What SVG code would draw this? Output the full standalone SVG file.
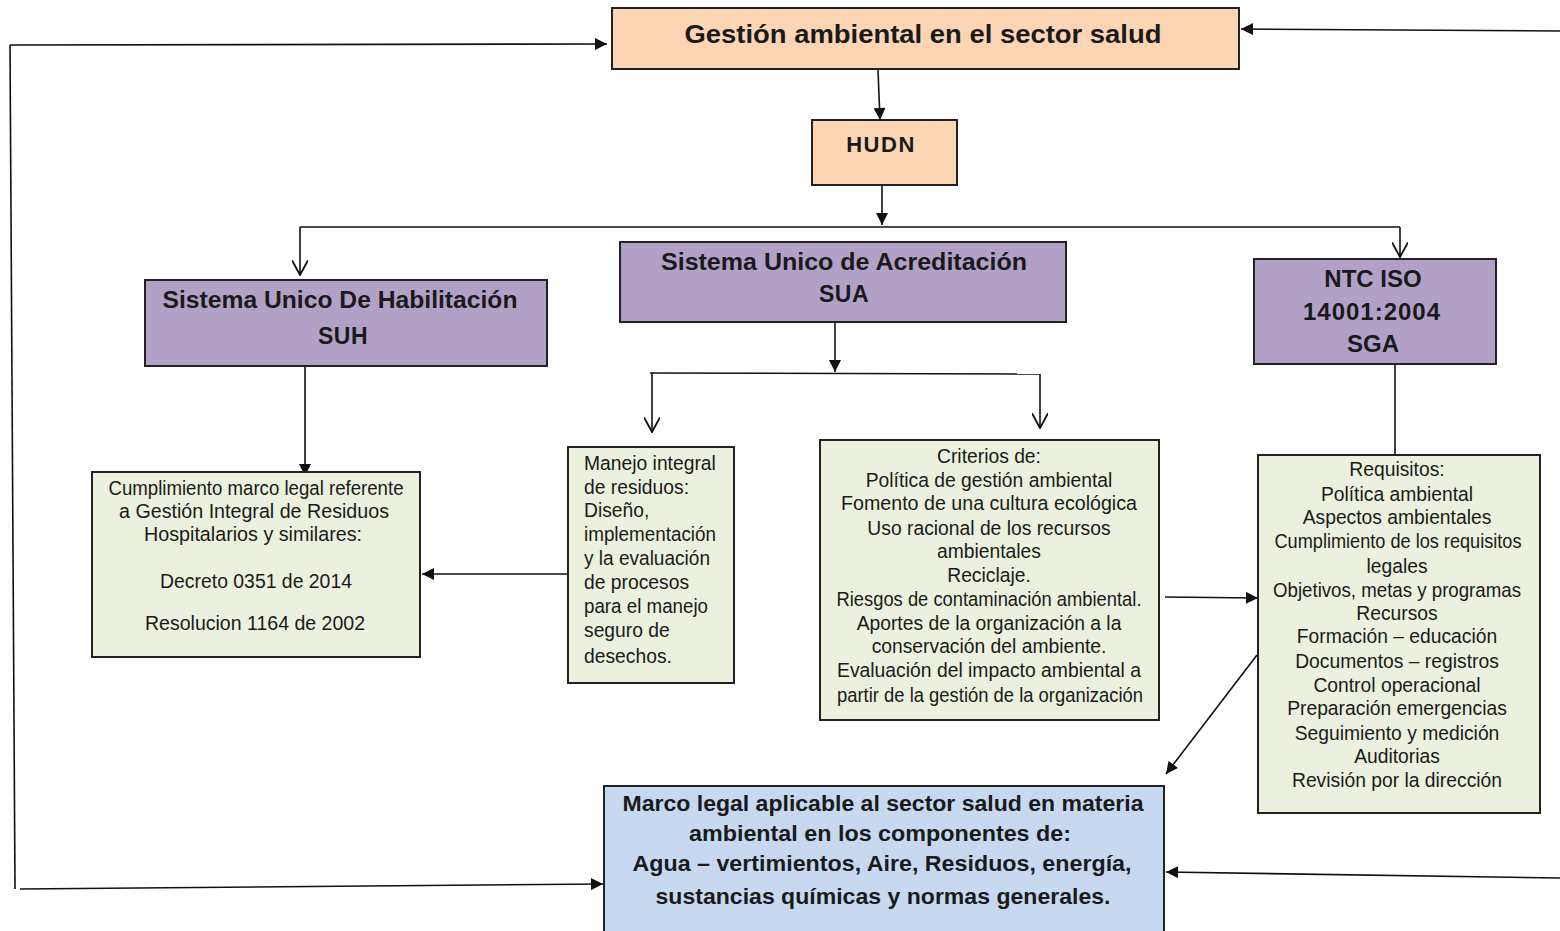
<svg xmlns="http://www.w3.org/2000/svg" width="1560" height="931" viewBox="0 0 1560 931">
<style>
.box{stroke:#222;stroke-width:2}
.peach{fill:#FCD5B5}
.purple{fill:#B2A1C7}
.green{fill:#EBF1DE}
.blue{fill:#C6D9F1}
.h{font-family:"Liberation Sans",Arial,sans-serif;font-weight:bold;fill:#1a1a1a;text-anchor:middle}
.t{font-family:"Liberation Sans",Arial,sans-serif;font-size:19.3px;fill:#1a1a1a;text-anchor:middle}
.tl{font-family:"Liberation Sans",Arial,sans-serif;font-size:19.3px;fill:#1a1a1a}
.c{fill:none;stroke:#111;stroke-width:1.6}
</style>
<defs>
<marker id="fb" viewBox="0 0 10 10" refX="10" refY="5" markerWidth="14" markerHeight="12" markerUnits="userSpaceOnUse" orient="auto">
<path d="M0,0 L10,5 L0,10 z" fill="#111"/>
</marker>
<marker id="oa" viewBox="0 0 12 12" refX="11" refY="6" markerWidth="16" markerHeight="16" markerUnits="userSpaceOnUse" orient="auto">
<path d="M0,0 L11,6 L0,12" fill="none" stroke="#111" stroke-width="1.4"/>
</marker>
</defs>

<g id="connectors">
<path class="c" d="M878,70 L880,120" marker-end="url(#fb)"/>
<path class="c" d="M882,185 L882,225" marker-end="url(#fb)"/>
<path class="c" d="M300,227 L1400,227"/>
<path class="c" d="M300,227 L300,275" marker-end="url(#oa)"/>
<path class="c" d="M1400,227 L1400,257" marker-end="url(#oa)"/>
<path class="c" d="M835,322 L835,372" marker-end="url(#fb)"/>
<path class="c" d="M650,373 L1040,374"/>
<path class="c" d="M652,373 L652,432" marker-end="url(#oa)"/>
<path class="c" d="M1040,374 L1040,428" marker-end="url(#oa)"/>
<path class="c" d="M305,366 L305,476" marker-end="url(#fb)"/>
<path class="c" d="M567,574 L422,574" marker-end="url(#fb)"/>
<path class="c" d="M1165,597 L1258,598" marker-end="url(#fb)"/>
<path class="c" d="M1395,364 L1395,455"/>
<path class="c" d="M1257,655 L1166,774" marker-end="url(#fb)"/>
<path class="c" d="M10,45 L15,889"/>
<path class="c" d="M20,889 L603,884" marker-end="url(#fb)"/>
<path class="c" d="M10,45 L607,44" marker-end="url(#fb)"/>
<path class="c" d="M1560,31 L1241,29" marker-end="url(#fb)"/>
<path class="c" d="M1560,878 L1166,872" marker-end="url(#fb)"/>
</g>

<g id="gestion">
<rect class="box peach" x="612" y="8" width="627" height="61"/>
<text class="h" x="923" y="43" font-size="26" textLength="477" lengthAdjust="spacingAndGlyphs">Gestión ambiental en el sector salud</text>
</g>

<g id="hudn">
<rect class="box peach" x="812" y="120" width="145" height="65"/>
<text class="h" x="881" y="152" font-size="22" letter-spacing="1.5">HUDN</text>
</g>

<g id="suh">
<rect class="box purple" x="145" y="280" width="402" height="86"/>
<text class="h" x="340" y="308" font-size="23" textLength="355" lengthAdjust="spacingAndGlyphs">Sistema Unico De Habilitación</text>
<text class="h" x="343" y="344" font-size="23" letter-spacing="0.5">SUH</text>
</g>

<g id="sua">
<rect class="box purple" x="620" y="242" width="446" height="80"/>
<text class="h" x="844" y="270" font-size="23" textLength="366" lengthAdjust="spacingAndGlyphs">Sistema Unico de Acreditación</text>
<text class="h" x="844" y="302" font-size="23" letter-spacing="0.5">SUA</text>
</g>

<g id="ntc">
<rect class="box purple" x="1254" y="259" width="242" height="105"/>
<text class="h" x="1373" y="287" font-size="24">NTC ISO</text>
<text class="h" x="1372" y="320" font-size="24" letter-spacing="1">14001:2004</text>
<text class="h" x="1373" y="352" font-size="24">SGA</text>
</g>

<g id="cumplimiento">
<rect class="box green" x="92" y="472" width="328" height="185"/>
<text class="t" x="256" y="495" textLength="295" lengthAdjust="spacingAndGlyphs">Cumplimiento marco legal referente</text>
<text class="t" x="254" y="518" textLength="270" lengthAdjust="spacingAndGlyphs">a Gestión Integral de Residuos</text>
<text class="t" x="253" y="541" textLength="218" lengthAdjust="spacingAndGlyphs">Hospitalarios y similares:</text>
<text class="t" x="256" y="588" textLength="192" lengthAdjust="spacingAndGlyphs">Decreto 0351 de 2014</text>
<text class="t" x="255" y="630" textLength="220" lengthAdjust="spacingAndGlyphs">Resolucion 1164 de 2002</text>
</g>

<g id="manejo">
<rect class="box green" x="568" y="447" width="166" height="236"/>
<text class="tl" x="584" y="470">Manejo integral</text>
<text class="tl" x="584" y="494">de residuos:</text>
<text class="tl" x="584" y="517">Diseño,</text>
<text class="tl" x="584" y="541" textLength="132" lengthAdjust="spacingAndGlyphs">implementación</text>
<text class="tl" x="584" y="565" textLength="126" lengthAdjust="spacingAndGlyphs">y la evaluación</text>
<text class="tl" x="584" y="589">de procesos</text>
<text class="tl" x="584" y="613" textLength="124" lengthAdjust="spacingAndGlyphs">para el manejo</text>
<text class="tl" x="584" y="637">seguro de</text>
<text class="tl" x="584" y="663">desechos.</text>
</g>

<g id="criterios">
<rect class="box green" x="820" y="440" width="339" height="280"/>
<text class="t" x="989" y="463">Criterios de:</text>
<text class="t" x="989" y="487">Política de gestión ambiental</text>
<text class="t" x="989" y="510" textLength="296" lengthAdjust="spacingAndGlyphs">Fomento de una cultura ecológica</text>
<text class="t" x="989" y="535">Uso racional de los recursos</text>
<text class="t" x="989" y="558">ambientales</text>
<text class="t" x="989" y="582">Reciclaje.</text>
<text class="t" x="989" y="606" textLength="305" lengthAdjust="spacingAndGlyphs">Riesgos de contaminación ambiental.</text>
<text class="t" x="989" y="630">Aportes de la organización a la</text>
<text class="t" x="989" y="653">conservación del ambiente.</text>
<text class="t" x="989" y="677" textLength="304" lengthAdjust="spacingAndGlyphs">Evaluación del impacto ambiental a</text>
<text class="t" x="990" y="702" textLength="306" lengthAdjust="spacingAndGlyphs">partir de la gestión de la organización</text>
</g>

<g id="requisitos">
<rect class="box green" x="1258" y="455" width="282" height="358"/>
<text class="t" x="1397" y="476">Requisitos:</text>
<text class="t" x="1397" y="501">Política ambiental</text>
<text class="t" x="1397" y="524">Aspectos ambientales</text>
<text class="t" x="1398" y="548" textLength="247" lengthAdjust="spacingAndGlyphs">Cumplimiento de los requisitos</text>
<text class="t" x="1397" y="573">legales</text>
<text class="t" x="1397" y="597" textLength="248" lengthAdjust="spacingAndGlyphs">Objetivos, metas y programas</text>
<text class="t" x="1397" y="620">Recursos</text>
<text class="t" x="1397" y="643">Formación – educación</text>
<text class="t" x="1397" y="668">Documentos – registros</text>
<text class="t" x="1397" y="692">Control operacional</text>
<text class="t" x="1397" y="715">Preparación emergencias</text>
<text class="t" x="1397" y="740">Seguimiento y medición</text>
<text class="t" x="1397" y="763">Auditorias</text>
<text class="t" x="1397" y="787">Revisión por la dirección</text>
</g>

<g id="marco">
<rect class="box blue" x="604" y="786" width="560" height="150"/>
<text class="h" x="883" y="811" font-size="21.5" textLength="521" lengthAdjust="spacingAndGlyphs">Marco legal aplicable al sector salud en materia</text>
<text class="h" x="880" y="841" font-size="21.5" textLength="382" lengthAdjust="spacingAndGlyphs">ambiental en los componentes de:</text>
<text class="h" x="882" y="871" font-size="21.5" textLength="499" lengthAdjust="spacingAndGlyphs">Agua – vertimientos, Aire, Residuos, energía,</text>
<text class="h" x="883" y="904" font-size="21.5" textLength="455" lengthAdjust="spacingAndGlyphs">sustancias químicas y normas generales.</text>
</g>
</svg>
